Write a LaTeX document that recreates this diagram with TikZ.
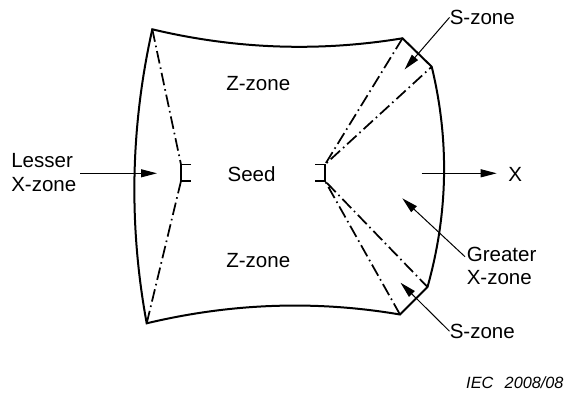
\documentclass[tikz,border=0pt]{standalone}
\usepackage{fontspec}
\setmainfont{Liberation Sans}
\usetikzlibrary{arrows.meta}

\begin{document}
\begin{tikzpicture}[x=0.75pt,y=-0.75pt,
		rim/.style={line width=1.5pt, line join=miter},
		chain/.style={line width=1.3pt, dash pattern=on 9.5pt off 3pt on 1.2pt off 3pt},
		seedmark/.style={line width=1.2pt},
		leader/.style={line width=0.75pt, -{Triangle[length=12pt,width=6pt]}},
		lbl/.style={inner sep=0pt, font=\fontsize{15.4}{17.5}\selectfont, align=left}]
		\useasboundingbox (0,0) rectangle (566,396);
		% Corners
		\coordinate (tl) at (152.3,29.3);
		\coordinate (tr) at (402.5,38.3);
		\coordinate (rt) at (431.7,66.7);
		\coordinate (rb) at (427.5,287);
		\coordinate (br) at (400,314.5);
		\coordinate (bl) at (146.7,323.3);
		% Seed ends
		\coordinate (ls-a) at (181,164.5);
		\coordinate (ls-b) at (181,181);
		\coordinate (rs-a) at (325,164.5);
		\coordinate (rs-b) at (325,181);
		% Outline
		\draw[rim] (tl) .. controls (235.1,49.1) and (318.5,52.1) .. (tr) -- (rt)
			.. controls (449.5,140.1) and (448.1,213.6) .. (rb) -- (br)
			.. controls (315.6,300.1) and (231.1,303.1) .. (bl)
			.. controls (128.6,225.3) and (130.4,127.3) .. (tl) -- cycle;
		% Seed
		\draw[seedmark] ([xshift=7.5pt]ls-a) -- (ls-a) -- (ls-b) -- ([xshift=7.5pt]ls-b);
		\draw[seedmark] ([xshift=-7.5pt]rs-a) -- (rs-a) -- (rs-b) -- ([xshift=-7.5pt]rs-b);
		% Zone borders
		\draw[chain] (tl) -- (ls-a);
		\draw[chain] (ls-b) -- (bl);
		\draw[chain] (tr) -- (rs-a) -- (rt);
		\draw[chain] (br) -- (rs-b) -- (rb);
		% Labels
		\node[lbl, anchor=base west] (z-top) at (226,90) {Z-zone};
		\node[lbl, anchor=base west] (z-bot) at (226,267.3) {Z-zone};
		\node[lbl, anchor=base west] (seed) at (227.3,181.5) {Seed};
		\node[lbl, anchor=north west] (lesser) at (11,153.6) {Lesser\\X-zone};
		\node[lbl, anchor=north west] (greater) at (466.5,246.8) {Greater\\X-zone};
		\node[lbl, anchor=base west] (x-axis) at (508,181.7) {X};
		\node[lbl, anchor=base west] (s-top) at (449.5,24.5) {S-zone};
		\node[lbl, anchor=base west] (s-bot) at (449.5,338.3) {S-zone};
		\node[anchor=base east, inner sep=0pt, font=\fontsize{12.2}{14}\selectfont\itshape] (iec) at (563.8,388.3) {IEC\hspace{0.7em}2008/08};
		% Arrows
		\coordinate (lx-tail) at (80,173.3);
		\coordinate (lx-tip) at (157,173.3);
		\coordinate (x-tail) at (421.7,173.3);
		\coordinate (x-tip) at (496.7,173.3);
		\coordinate (gx-tail) at (465,256.7);
		\coordinate (gx-tip) at (402.3,198.3);
		\coordinate (st-tip) at (404.5,69.5);
		\coordinate (sb-tip) at (400.5,282.7);
		\draw[leader] (lx-tail) -- (lx-tip);
		\draw[leader] (x-tail) -- (x-tip);
		\draw[leader] (gx-tail) -- (gx-tip);
		\draw[leader] (s-top.west) -- (st-tip);
		\draw[leader] (s-bot.west) -- (sb-tip);
	\end{tikzpicture}
\end{document}
